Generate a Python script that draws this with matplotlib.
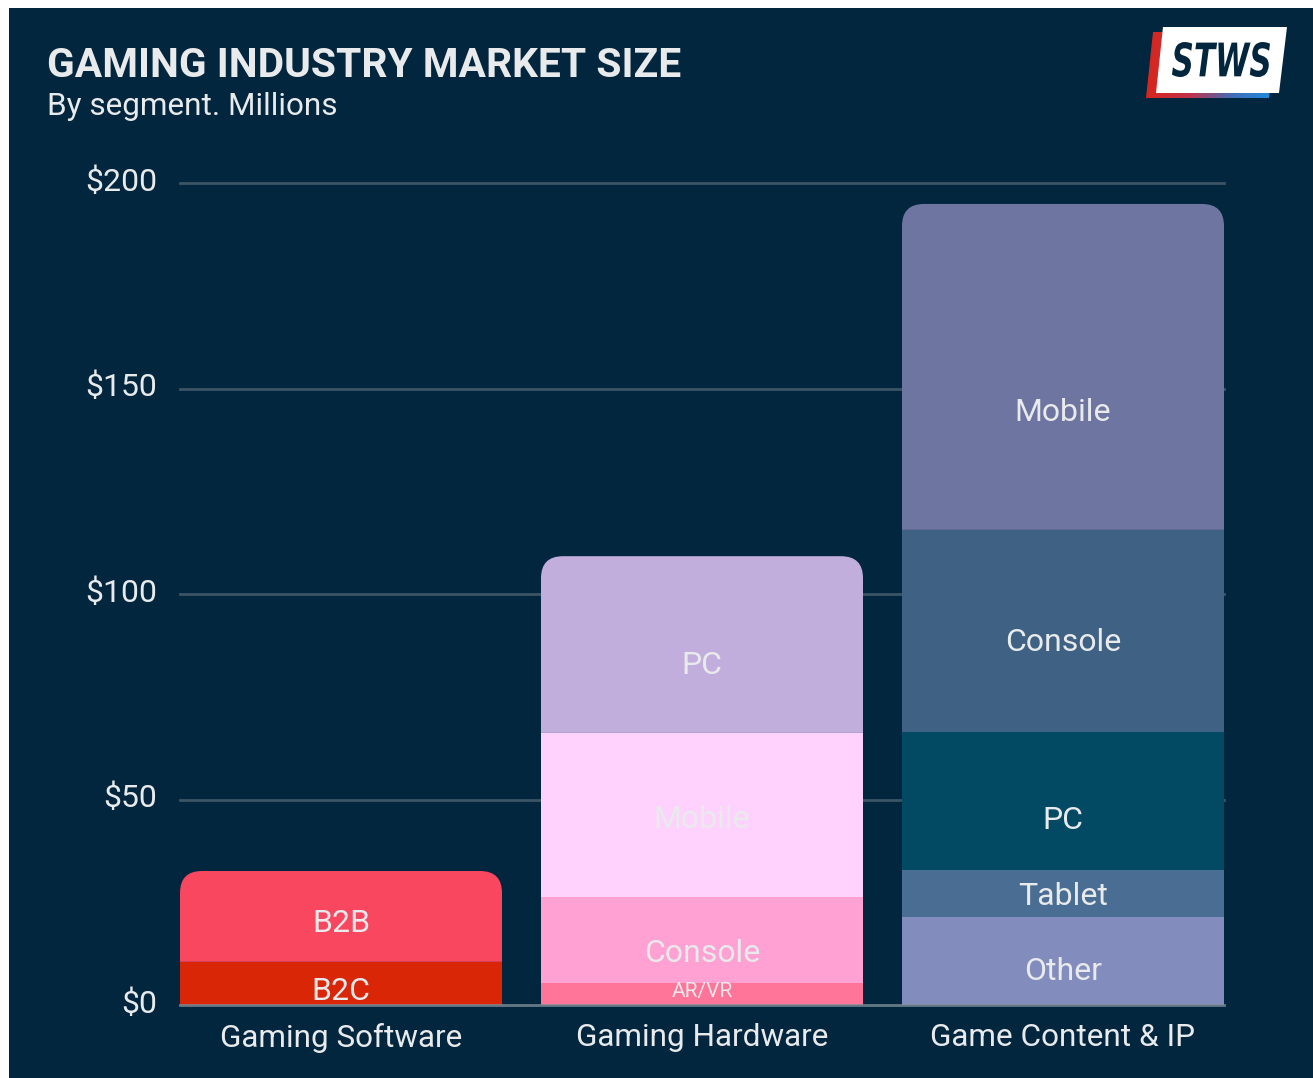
import numpy as np
import matplotlib
matplotlib.use("Agg")
import matplotlib.pyplot as plt
from matplotlib.path import Path
from matplotlib.patches import PathPatch, Polygon, Rectangle
from matplotlib.textpath import TextPath
from matplotlib.font_manager import FontProperties
from matplotlib.transforms import Affine2D, ScaledTranslation

# ---- data (millions) ----
categories = ["Gaming Software", "Gaming Hardware", "Game Content & IP"]

software_labels = ["B2C", "B2B"]
software_values = [10.5, 22.1]

hardware_labels = ["AR/VR", "Console", "Mobile", "PC"]
hardware_values = [5.3, 21.0, 39.9, 43.0]

content_labels = ["Other", "Tablet", "PC", "Console", "Mobile"]
content_values = [21.4, 11.4, 33.6, 49.2, 79.3]

yticks = [0, 50, 100, 150, 200]
ytick_labels = ["$0", "$50", "$100", "$150", "$200"]

# ---- styles ----
BG = "#02263e"
TXT = "#e8eaec"
GRID = "#3c5566"
software_colors = ["#d82606", "#f94760"]
hardware_colors = ["#ff7499", "#ffa1d3", "#ffd1fd", "#c2aedd"]
content_colors = ["#838dbd", "#4a6d93", "#024a64", "#3e6184", "#6e75a0"]
# where the label sits inside each segment (fraction of its height)
software_lab = [0.39, 0.46]
hardware_lab = [0.75, 0.38, 0.49, 0.4]
content_lab = [0.42, 0.5, 0.38, 0.46, 0.37]

FONT = "Roboto"
W, H = 1313, 1078

fig = plt.figure(figsize=(W / 100, H / 100), dpi=100)
fig.patch.set_facecolor("white")

# background axes in pixel coords (y down)
bg = fig.add_axes([0, 0, 1, 1], zorder=0)
bg.set_xlim(0, W)
bg.set_ylim(H, 0)
bg.axis("off")
bg.add_patch(Rectangle((9, 8), W, H, facecolor=BG, edgecolor="none"))

bg.text(47, 77, "GAMING INDUSTRY MARKET SIZE", family=FONT, weight="bold",
        fontsize=29.3, color=TXT, va="baseline", ha="left")
bg.text(47, 115, "By segment. Millions", family=FONT, fontsize=22.7,
        color=TXT, va="baseline", ha="left")

# logo
shadow = [(1153, 32), (1277, 32), (1269, 98), (1146, 98)]
white = [(1163, 27), (1287, 27), (1279, 93), (1156, 93)]
clip = Polygon(shadow, closed=True, facecolor="none", edgecolor="none")
bg.add_patch(clip)
grad = np.linspace(0, 1, 256).reshape(1, -1)
cmap = matplotlib.colors.LinearSegmentedColormap.from_list(
    "lg", ["#d8261c", "#c2304a", "#3f6fb8", "#1a8ee2"])
im = bg.imshow(grad, cmap=cmap, extent=(1146, 1277, 98, 32), aspect="auto",
               zorder=1)
im.set_clip_path(clip)
bg.add_patch(Polygon(white, closed=True, facecolor="white",
                     edgecolor="none", zorder=2))
tp = TextPath((0, 0), "STWS", prop=FontProperties(family="DejaVu Sans",
                                                 weight="bold", style="italic"))
bb = tp.get_extents()
tx0, tx1, ty0, ty1 = 1172, 1270, 42, 77
tr = (Affine2D().translate(-bb.x0, -bb.y0)
      .scale((tx1 - tx0) / bb.width, -(ty1 - ty0) / bb.height)
      .translate(tx0, ty1))
bg.add_patch(PathPatch(tr.transform_path(tp), facecolor=BG,
                       edgecolor="none", zorder=3))

# chart axes
left, right, top, bottom = 180, 1224, 183, 1005
ax = fig.add_axes([left / W, (H - bottom) / H, (right - left) / W,
                   (bottom - top) / H], zorder=1)
ax.set_facecolor("none")
bw = 322 / 361
ax.set_xlim(-bw / 2, 2 + bw / 2)
ax.set_ylim(0, 200)
for s in ax.spines.values():
    s.set_visible(False)

for v in yticks[1:]:
    ax.axhline(v, color=GRID, lw=2, zorder=0, clip_on=False)
ax.axhline(0, color="#7f8f9a", lw=2, zorder=6, clip_on=False, alpha=0.8)

ax.set_yticks(yticks)
ax.set_yticklabels(ytick_labels)
ax.set_xticks(range(len(categories)))
ax.set_xticklabels(categories)
ax.tick_params(length=0, colors=TXT)
ax.tick_params(axis="y", pad=16.5, labelsize=23)
ax.tick_params(axis="x", pad=12, labelsize=22.7)
lift = ScaledTranslation(0, 4 / 100, fig.dpi_scale_trans)
for lab in ax.get_yticklabels():
    lab.set_family(FONT)
    lab.set_transform(lab.get_transform() + lift)
for lab in ax.get_xticklabels():
    lab.set_family(FONT)
    lab.set_verticalalignment("center_baseline")
    lab.set_transform(lab.get_transform()
                      + ScaledTranslation(0, -13 / 100, fig.dpi_scale_trans))

# corner radius in data units (22 px)
rx = 22 / (361.0)
ry = 22 / ((bottom - top) / 200.0)


def rounded_top(x0, x1, y0, y1):
    verts = [(x0, y0), (x0, y1 - ry), (x0, y1), (x0 + rx, y1),
             (x1 - rx, y1), (x1, y1), (x1, y1 - ry), (x1, y0), (x0, y0)]
    codes = [Path.MOVETO, Path.LINETO, Path.CURVE3, Path.CURVE3, Path.LINETO,
             Path.CURVE3, Path.CURVE3, Path.LINETO, Path.CLOSEPOLY]
    return Path(verts, codes)


stacks = [(software_labels, software_values, software_colors, software_lab),
          (hardware_labels, hardware_values, hardware_colors, hardware_lab),
          (content_labels, content_values, content_colors, content_lab)]

drop = ScaledTranslation(0, -3 / 100, fig.dpi_scale_trans)
for i, (labs, vals, cols, fr) in enumerate(stacks):
    x0, x1 = i - bw / 2, i + bw / 2
    base = 0.0
    for j, (lab, v, c, f) in enumerate(zip(labs, vals, cols, fr)):
        if j == len(vals) - 1:
            ax.add_patch(PathPatch(rounded_top(x0, x1, base, base + v),
                                   facecolor=c, edgecolor="none", zorder=2))
        else:
            ax.bar(i, v, bottom=base, width=bw, color=c, zorder=2,
                   linewidth=0)
        small = v < 8
        ax.text(i, base + v * f, lab, ha="center", va="center",
                family=FONT, fontsize=15 if small else 23, color=TXT,
                zorder=4, transform=ax.transData + drop)
        base += v

fig.savefig("out.png", dpi=100, facecolor=fig.get_facecolor())
